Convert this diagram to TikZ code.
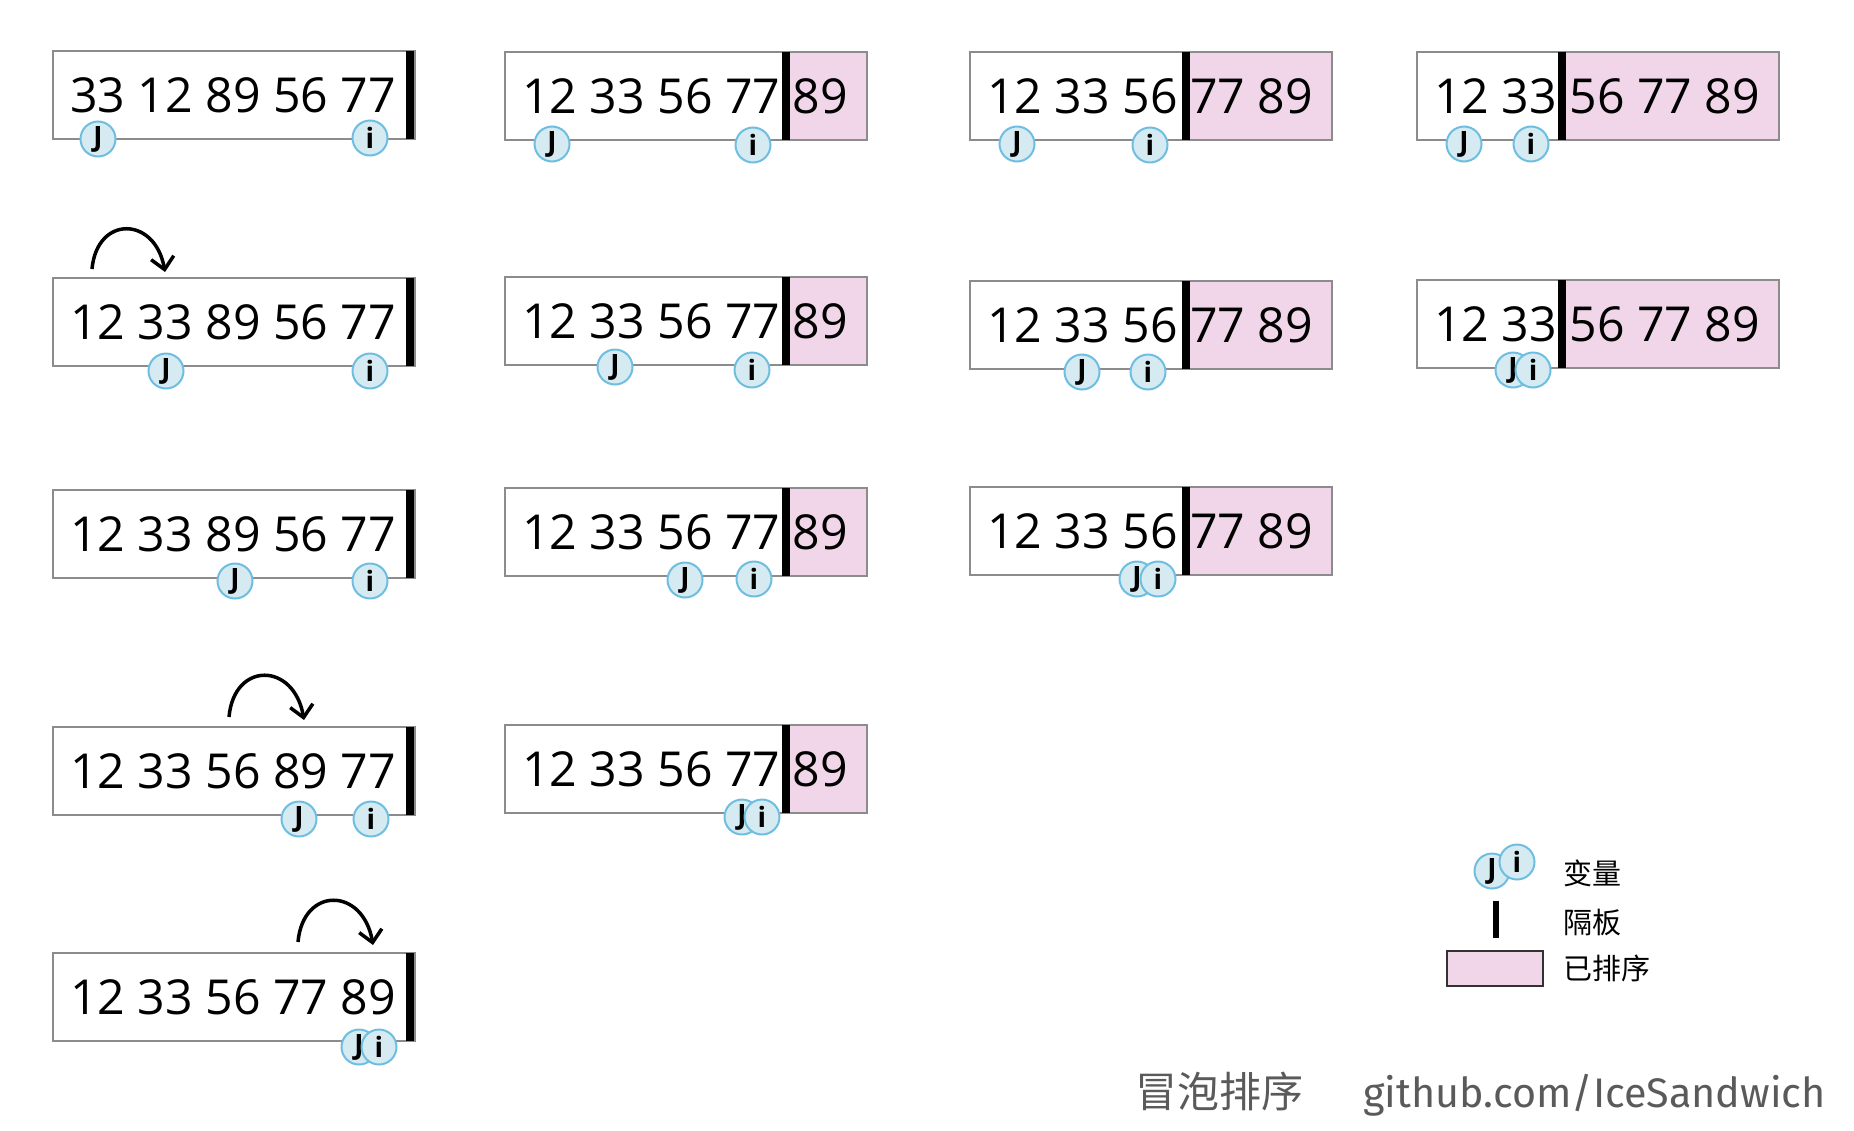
\documentclass[tikz,border=0pt]{standalone}
\usepackage{fontspec}
\setmainfont{Open Sans}
\newfontfamily\cjkfont{Noto Sans CJK SC}
\newfontfamily\firafont{Fira Sans}
\usetikzlibrary{arrows.meta,calc}
\definecolor{pinkc}{RGB}{240,214,232}
\definecolor{boxgray}{RGB}{140,140,140}
\definecolor{varfill}{RGB}{214,234,242}
\definecolor{varline}{RGB}{110,190,225}
\definecolor{footgray}{RGB}{90,90,90}
\definecolor{legline}{RGB}{50,50,50}
\tikzset{
  boxshape/.style={rectangle, minimum width=362pt, minimum height=88pt, inner sep=0pt, outer sep=0pt},
  boxline/.style={draw=boxgray, line width=2.5pt},
  numtext/.style={font=\fontsize{48.2}{50}\selectfont, inner sep=0pt, text=black},
  varc/.style={circle, draw=varline, fill=varfill, line width=2pt, minimum size=35pt, inner sep=0pt, font=\bfseries\fontsize{28}{28}\selectfont},
  swaparrow/.style={line width=3.5pt, -{Straight Barb[length=12pt,width=23pt]}},
  legtext/.style={font=\cjkfont\fontsize{29}{29}\selectfont, inner sep=0pt, anchor=west},
  foottext/.style={text=footgray, inner sep=0pt, anchor=base west}
}
% name, x, y, bar offset, text
\newcommand\seqbox[5]{%
  \node[boxshape, anchor=north west] (#1) at (#2,#3) {};
  \ifnum#4<353\relax
    \fill[pinkc] ($(#1.north west)+(#4+8,0)$) rectangle (#1.south east);
  \fi
  \draw[boxline] (#1.north west) rectangle (#1.south east);
  \fill[black] ($(#1.north west)+(#4,0)$) rectangle ($(#1.south west)+(#4+8,0)$);
  \node[numtext, anchor=base west] (#1t) at ($(#1.north west)+(17,61)$) {#5};
}
\begin{document}
\begin{tikzpicture}[x=1pt,y=-1pt]
\useasboundingbox (0,0) rectangle (1854,1130);
% ---- boxes ----
\seqbox{b11}{53}{51}{353}{33 12 89 56 77}
\seqbox{b12}{505}{52}{277}{12 33 56 77 89}
\seqbox{b13}{970}{52}{212}{12 33 56 77 89}
\seqbox{b14}{1417}{52}{141}{12 33 56 77 89}
\seqbox{b21}{53}{278}{353}{12 33 89 56 77}
\seqbox{b22}{505}{277}{277}{12 33 56 77 89}
\seqbox{b23}{970}{281}{212}{12 33 56 77 89}
\seqbox{b24}{1417}{280}{141}{12 33 56 77 89}
\seqbox{b31}{53}{490}{353}{12 33 89 56 77}
\seqbox{b32}{505}{488}{277}{12 33 56 77 89}
\seqbox{b33}{970}{487}{212}{12 33 56 77 89}
\seqbox{b41}{53}{727}{353}{12 33 56 89 77}
\seqbox{b42}{505}{725}{277}{12 33 56 77 89}
\seqbox{b51}{53}{953}{353}{12 33 56 77 89}
% ---- variables ----
\node[varc] (j11) at (98,139) {J};
\node[varc] (i11) at (370,138) {i};
\node[varc] (j12) at (552,144) {J};
\node[varc] (i12) at (753,145) {i};
\node[varc] (j13) at (1017,144) {J};
\node[varc] (i13) at (1150,145) {i};
\node[varc] (j14) at (1464,144) {J};
\node[varc] (i14) at (1531,144) {i};
\node[varc] (j21) at (166,371) {J};
\node[varc] (i21) at (370,371) {i};
\node[varc] (j22) at (615,367) {J};
\node[varc] (i22) at (752,370) {i};
\node[varc] (j23) at (1082,372) {J};
\node[varc] (i23) at (1148,372) {i};
\node[varc] (j24) at (1513,370) {J};
\node[varc] (i24) at (1533,370) {i};
\node[varc] (j31) at (235,581) {J};
\node[varc] (i31) at (370,581) {i};
\node[varc] (j32) at (685,580) {J};
\node[varc] (i32) at (754,579) {i};
\node[varc] (j33) at (1137,579) {J};
\node[varc] (i33) at (1158,579) {i};
\node[varc] (j41) at (299,819) {J};
\node[varc] (i41) at (371,819) {i};
\node[varc] (j42) at (742,817) {J};
\node[varc] (i42) at (762,817) {i};
\node[varc] (j51) at (359,1047) {J};
\node[varc] (i51) at (379,1047) {i};
% ---- swap arrows ----
\coordinate (a2s) at (92,269);  \coordinate (a2e) at (165,272);
\coordinate (a4s) at (229,717); \coordinate (a4e) at (304,720);
\coordinate (a5s) at (298,942); \coordinate (a5e) at (373,945);
\draw[swaparrow] (a2s) .. controls +(5,-54) and +(-10,-56) .. (a2e);
\draw[swaparrow] (a4s) .. controls +(5,-56) and +(-10,-58) .. (a4e);
\draw[swaparrow] (a5s) .. controls +(5,-56) and +(-10,-58) .. (a5e);
% ---- legend ----
\node[varc] (lgj) at (1492,871) {J};
\node[varc] (lgi) at (1517,862) {i};
\node[fill=black, minimum width=6pt, minimum height=37pt, inner sep=0pt] (lgbar) at (1496,919.5) {};
\node[draw=legline, fill=pinkc, line width=2pt, minimum width=96pt, minimum height=35pt, inner sep=0pt] (lgpink) at (1495,968.5) {};
\node[legtext] (lg1) at (1563,873) {变量};
\node[legtext] (lg2) at (1563,922) {隔板};
\node[legtext] (lg3) at (1563,968) {已排序};
% ---- footer ----
\node[foottext, font=\cjkfont\fontsize{42}{42}\selectfont] (ftitle) at (1135,1107) {冒泡排序};
\node[foottext, font=\firafont\fontsize{41.3}{42}\selectfont] (furl) at (1363,1107) {github.com/IceSandwich};
\end{tikzpicture}
\end{document}
